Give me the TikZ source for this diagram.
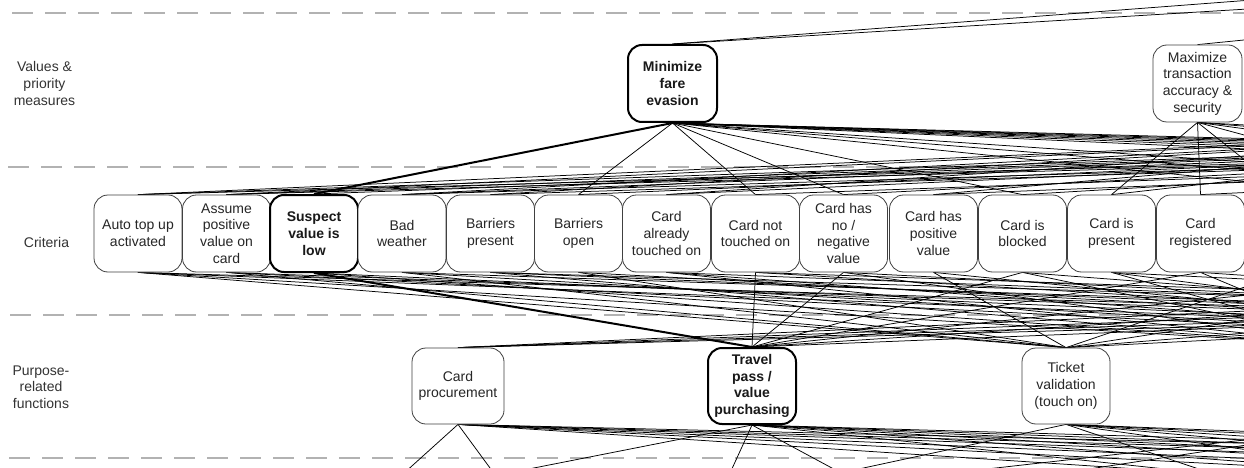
\documentclass[tikz,border=0pt]{standalone}
\usepackage{fontspec}
\setmainfont{Liberation Sans}
\usetikzlibrary{backgrounds}
\begin{document}
\begin{tikzpicture}[x=1pt,y=-1pt,
  box/.style={draw=black!75, line width=0.8pt, fill=white, rounded corners=14pt,
    minimum width=88pt, minimum height=77pt, inner sep=0pt, align=center,
    text=black!85, font=\fontsize{14}{16.7}\selectfont},
  boldbox/.style={box, draw=black, line width=2pt, text=black!90,
    font=\fontsize{14}{16.7}\selectfont\bfseries},
  ghost/.style={minimum width=88pt, minimum height=77pt, inner sep=0pt},
  rowlabel/.style={align=center, text=black!80, font=\fontsize{14}{16.7}\selectfont},
  link/.style={draw=black, line width=0.75pt},
  boldlink/.style={draw=black, line width=2pt},
  lane/.style={draw=black!30, line width=1.5pt, dash pattern=on 21pt off 12pt}
]
\useasboundingbox (0,0) rectangle (1244,468);
\clip (0,0) rectangle (1244,468);

% row labels
\node[rowlabel] (lv) at (44.5,83.5) {Values \&\\priority\\measures};
\node[rowlabel] (lc) at (46.5,242) {Criteria};
\node[rowlabel] (lf) at (41,387) {Purpose-\\related\\functions};

% rows outside the picture (ghosts)
\node[ghost] (t1) at (1776,-78.5) {};
\node[ghost] (t2) at (2050,-78.5) {};
\node[ghost] (v3) at (1750,83.5) {};
\node[ghost] (v4) at (2250,83.5) {};
\node[ghost] (v5) at (2750,83.5) {};
\foreach \k in {13,...,38} \node[ghost] (c\k) at ({138+88.5*\k},233.5) {};
\node[ghost] (f3) at (1380,386) {};
\node[ghost] (f4) at (1690,386) {};
\node[ghost] (f5) at (2000,386) {};
\node[ghost] (f6) at (2310,386) {};
\node[ghost] (f7) at (2620,386) {};
\node[ghost] (f8) at (2930,386) {};
\node[ghost] (gA) at (375,538) {};
\node[ghost] (gB) at (718,538) {};
\node[ghost] (gC) at (513,538) {};
\node[ghost] (gD) at (890,538) {};
\node[ghost] (gE) at (1289,538) {};
\foreach \k/\x in {1/1450,2/1600,3/1750,4/1900,5/2050,6/2200,7/2400,8/2600,9/2800,10/3000,11/3300,12/3600}
  \node[ghost] (g\k) at (\x,538) {};

% values
\node[boldbox, minimum width=89pt] (v1) at (672.5,83.5) {Minimize\\fare\\evasion};
\node[box, minimum width=89pt] (v2) at (1197.5,83.5) {Maximize\\transaction\\accuracy \&\\security};

% criteria
\node[box] (c0) at (138,233.5) {Auto top up\\activated};
\node[box] (c1) at (226.5,233.5) {Assume\\positive\\value on\\card};
\node[boldbox] (c2) at (314,233.5) {Suspect\\value is\\low};
\node[box] (c3) at (402,233.5) {Bad\\weather};
\node[box] (c4) at (490.5,233.5) {Barriers\\present};
\node[box] (c5) at (578.5,233.5) {Barriers\\open};
\node[box] (c6) at (666.5,233.5) {Card\\already\\touched on};
\node[box] (c7) at (755.5,233.5) {Card not\\touched on};
\node[box] (c8) at (843.5,233.5) {Card has\\no /\\negative\\value};
\node[box] (c9) at (933.5,233.5) {Card has\\positive\\value};
\node[box] (c10) at (1022.5,233.5) {Card is\\blocked};
\node[box] (c11) at (1111.5,233.5) {Card is\\present};
\node[box] (c12) at (1200.5,233.5) {Card\\registered};

% purpose-related functions
\node[box, minimum width=92pt, minimum height=76pt] (f0) at (458,386) {Card\\procurement};
\node[boldbox, minimum height=76pt] (f1) at (752,386) {Travel\\pass /\\value\\purchasing};
\node[box, minimum height=76pt] (f2) at (1066,386) {Ticket\\validation\\(touch on)};

\begin{scope}[on background layer]
  \clip (0,0) rectangle (1244,468);
  \fill[white] (0,0) rectangle (1244,468);
  \draw[lane] (12,13) -- (1244,13);
  \draw[lane] (8,167) -- (1244,167);
  \draw[lane] (10,315) -- (1244,315);
  \draw[lane] (9,458) -- (1244,458);

  % values -> row above
  \foreach \a/\b in {v1/t1, v1/t2, v2/t2} \draw[link] (\a.north) -- (\b.south);

  % values -> criteria
  \foreach \a/\b in {v1/c5, v1/c7, v1/c8, v1/c10, v1/c14, v1/c16, v1/c18, v1/c24,
      v1/c26, v1/c28, v1/c30, v1/c32, v1/c34, v1/c36,
      v2/c11, v2/c12, v2/c13, v2/c15, v2/c18, v2/c22, v2/c27,
      v3/c0, v3/c1, v3/c3, v3/c4, v3/c6, v3/c9, v3/c11,
      v4/c0, v4/c1, v4/c2, v4/c3, v4/c5, v4/c6, v4/c8, v4/c10,
      v5/c0, v5/c1, v5/c3, v5/c4, v5/c7, v5/c9, v5/c12}
    \draw[link] (\a.south) -- (\b.north);
  \draw[boldlink] (v1.south) -- (c2.north);

  % criteria -> purpose-related functions
  \foreach \a/\b in {c0/f2, c0/f3, c0/f5, c0/f7, c1/f2, c1/f4, c1/f6,
      c2/f3, c2/f5, c3/f2, c3/f4, c3/f7, c4/f3, c4/f6, c4/f8,
      c5/f2, c5/f5, c6/f3, c6/f4, c6/f7, c7/f1, c7/f5, c7/f8,
      c8/f1, c8/f3, c8/f6, c9/f2, c9/f4, c10/f1, c10/f3, c10/f5,
      c11/f3, c11/f4, c11/f7, c12/f1, c12/f3, c12/f6,
      c13/f2, c15/f1, c16/f2, c20/f1, c21/f2, c22/f0, c26/f0,
      c27/f2, c28/f1, c30/f0, c34/f0}
    \draw[link] (\a.south) -- (\b.north);
  \draw[boldlink] (c2.south) -- (f1.north);

  % purpose-related functions -> row below
  \foreach \a/\b in {f0/gA, f0/gC, f0/g2, f0/g4, f0/g6, f0/g8, f0/g10, f0/g12,
      f1/gA, f1/gB, f1/gD, f1/g1, f1/g3, f1/g5, f1/g7, f1/g9, f1/g11,
      f2/gB, f2/gE, f2/g2, f2/g4, f2/g6, f2/g8, f2/g10,
      f3/gB, f3/gD, f3/g3}
    \draw[link] (\a.south) -- (\b.north);
\end{scope}
\end{tikzpicture}
\end{document}
